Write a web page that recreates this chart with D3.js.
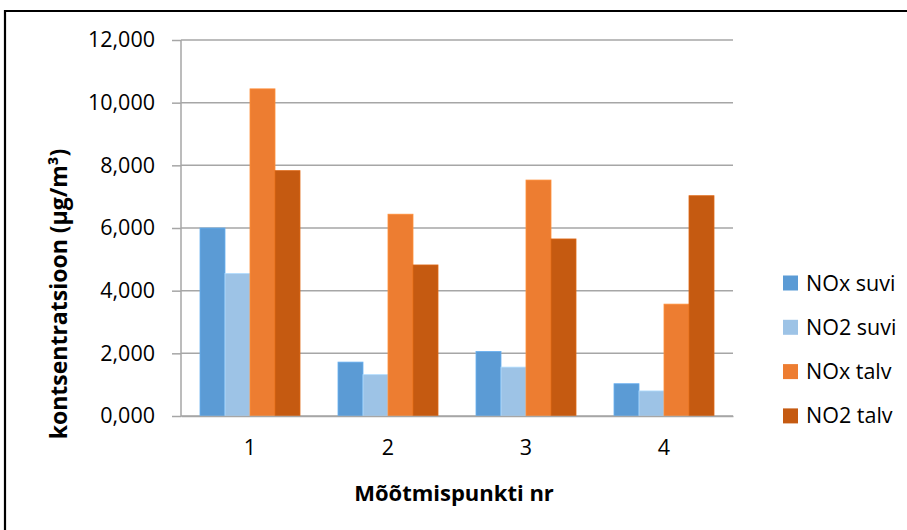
<!DOCTYPE html>
<html>
<head>
<meta charset="utf-8">
<script src="https://cdn.jsdelivr.net/npm/d3@7/dist/d3.min.js"></script>
<style>
  html, body { margin: 0; padding: 0; background: #fff; }
  svg { display: block; }
  text { font-family: "Open Sans", "Noto Sans", sans-serif; fill: #000; }
</style>
</head>
<body>
<svg id="chart" width="907" height="530"></svg>
<script>
// Measurement points and series
const categories = ["1", "2", "3", "4"];
const seriesNames = ["NOx suvi", "NO2 suvi", "NOx talv", "NO2 talv"];
const noxSuvi = [6000, 1720, 2060, 1030];
const no2Suvi = [4550, 1320, 1560, 800];
const noxTalv = [10440, 6440, 7530, 3570];
const no2Talv = [7830, 4820, 5650, 7030];
const seriesColors = ["#5b9bd5", "#9dc3e6", "#ed7d31", "#c55a11"];
const yTicks = [0, 2000, 4000, 6000, 8000, 10000, 12000];

const seriesValues = [noxSuvi, no2Suvi, noxTalv, no2Talv];
const rows = categories.map((c, i) => ({
  cat: c,
  vals: seriesNames.map((s, k) => ({ key: s, value: seriesValues[k][i] }))
}));

const svg = d3.select("#chart");

// Outer frame
svg.append("path")
  .attr("d", "M5,540 V11 H920")
  .attr("fill", "none")
  .attr("stroke", "#000")
  .attr("stroke-width", 2.2);

const plot = { left: 181, right: 733, top: 40, bottom: 416 };

const x0 = d3.scaleBand().domain(categories).range([plot.left, plot.right]).padding(0);
const x1 = d3.scaleBand().domain(seriesNames).range([0, x0.bandwidth()]).paddingInner(0).paddingOuter(0.76);
const y = d3.scaleLinear().domain([0, 12000]).range([plot.bottom, plot.top]);
const color = d3.scaleOrdinal().domain(seriesNames).range(seriesColors);

// Tick labels like "12,000" (thousands with three decimals, comma as decimal mark)
const tickFormat = v => d3.format("d")(Math.floor(v / 1000)) + "," + d3.format("03d")(v % 1000);

// Y axis
const yAxis = d3.axisLeft(y)
  .tickValues(yTicks)
  .tickSize(9)
  .tickPadding(17)
  .tickFormat(tickFormat);

const yg = svg.append("g").attr("transform", `translate(${plot.left},0)`).call(yAxis);
yg.select(".domain").attr("stroke", "#a6a6a6").attr("stroke-width", 1.5).attr("d", `M0,${plot.top}V${plot.bottom}`);
yg.selectAll(".tick line").attr("stroke", "#a6a6a6").attr("stroke-width", 1.5);
yg.selectAll(".tick text").attr("font-size", 21.5).attr("fill", "#000");

// Horizontal gridlines
svg.append("g")
  .selectAll("line")
  .data(yTicks)
  .join("line")
  .attr("x1", plot.left)
  .attr("x2", plot.right)
  .attr("y1", d => y(d))
  .attr("y2", d => y(d))
  .attr("stroke", "#a6a6a6")
  .attr("stroke-width", 1.5);

// Bars
const groups = svg.append("g")
  .selectAll("g")
  .data(rows)
  .join("g")
  .attr("transform", d => `translate(${x0(d.cat)},0)`);

groups.selectAll("rect")
  .data(d => d.vals)
  .join("rect")
  .attr("x", d => x1(d.key))
  .attr("y", d => y(d.value))
  .attr("width", x1.bandwidth())
  .attr("height", d => y(0) - y(d.value))
  .attr("fill", d => color(d.key))
  .attr("stroke", d => d3.color(color(d.key)).brighter(0.35))
  .attr("stroke-width", 0.8);

// X axis
const xAxis = d3.axisBottom(x0).tickSize(0).tickPadding(24);
const xg = svg.append("g").attr("transform", `translate(0,${plot.bottom})`).call(xAxis);
xg.select(".domain").attr("stroke", "#a6a6a6").attr("stroke-width", 1.5);
xg.selectAll(".tick text").attr("font-size", 21.5).attr("fill", "#000");

// Axis titles
svg.append("text")
  .attr("x", (plot.left + plot.right) / 2 - 3)
  .attr("y", 501)
  .attr("text-anchor", "middle")
  .attr("font-size", 22)
  .attr("font-weight", "bold")
  .text("Mõõtmispunkti nr");

svg.append("text")
  .attr("transform", "translate(67,294) rotate(-90)")
  .attr("text-anchor", "middle")
  .attr("font-size", 23)
  .attr("font-weight", "bold")
  .text("kontsentratsioon (µg/m³)");

// Legend
const legend = svg.append("g")
  .selectAll("g")
  .data(seriesNames)
  .join("g")
  .attr("transform", (d, i) => `translate(783,${283 + i * 44.3})`);

legend.append("rect")
  .attr("x", 0).attr("y", -7.5)
  .attr("width", 15).attr("height", 15)
  .attr("fill", d => color(d));

legend.append("text")
  .attr("x", 23)
  .attr("dy", "0.35em")
  .attr("font-size", 21.5)
  .text(d => d);
</script>
</body>
</html>
